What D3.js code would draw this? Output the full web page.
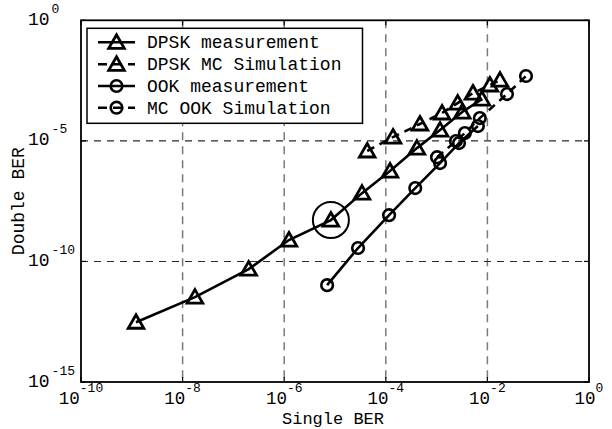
<!DOCTYPE html>
<html>
<head>
<meta charset="utf-8">
<script src="https://cdn.jsdelivr.net/npm/d3@7"></script>
<style>
  html, body { margin: 0; padding: 0; background: #fff; }
  svg { display: block; }
  text { font-family: "Liberation Mono", "Courier New", monospace; fill: #000; }
</style>
</head>
<body>
<svg id="chart" width="612" height="429"></svg>
<script>
// Single BER (x) vs double BER (y), one array pair per curve
const dpskMeasX = [1.21e-9, 1.75e-8, 2.0e-7, 1.24e-6, 8.3e-6, 3.4e-5, 1.21e-4, 4.1e-4, 1.17e-3, 3.2e-3, 7.8e-3];
const dpskMeasY = [3.0e-13, 3.3e-12, 4.8e-11, 7.7e-10, 5.2e-9, 6.8e-8, 5.6e-7, 5.0e-6, 2.8e-5, 1.57e-4, 5.4e-4];
const dpskSimX  = [4.3e-5, 1.39e-4, 4.7e-4, 1.28e-3, 2.6e-3, 5.2e-3, 1.12e-2, 1.77e-2];
const dpskSimY  = [3.8e-6, 1.44e-5, 5.0e-5, 1.43e-4, 3.7e-4, 9.6e-4, 2.07e-3, 3.3e-3];
const ookMeasX  = [7.0e-6, 2.84e-5, 1.16e-4, 3.8e-4, 1.17e-3, 2.76e-3, 6.5e-3];
const ookMeasY  = [1.04e-11, 3.6e-10, 8.3e-9, 1.1e-7, 1.2e-6, 8.1e-6, 4.1e-5];
const ookSimX   = [1.02e-3, 2.4e-3, 3.6e-3, 7.1e-3, 2.43e-2, 5.75e-2];
const ookSimY   = [2.1e-6, 9.8e-6, 2.1e-5, 8.8e-5, 8.7e-4, 4.9e-3];

// Highlighted operating point (5th DPSK measurement)
const highlightIndex = 4;

// Axis ticks and labels
const xTickExps = [-10, -8, -6, -4, -2, 0];
const yTickExps = [0, -5, -10, -15];
const xTitle = "Single BER";
const yTitle = "Double BER";
const legendLabels = ["DPSK measurement", "DPSK MC Simulation", "OOK measurement", "MC OOK Simulation"];

const svg = d3.select("#chart");
const L = 81, R = 589, T = 20.3, B = 382;

const x = d3.scaleLog().domain([1e-10, 1]).range([L, R]);
const y = d3.scaleLog().domain([1e-15, 1]).range([B, T]);

// Grid lines (interior decades only)
const g = svg.append("g");
xTickExps.filter(e => e > -10 && e < 0).forEach(e => {
  g.append("line")
    .attr("x1", x(Math.pow(10, e))).attr("x2", x(Math.pow(10, e)))
    .attr("y1", T).attr("y2", B)
    .attr("stroke", "#7a7a7a").attr("stroke-width", 1.5)
    .attr("stroke-dasharray", "8,6");
});
yTickExps.filter(e => e < 0 && e > -15).forEach(e => {
  g.append("line")
    .attr("x1", L).attr("x2", R)
    .attr("y1", y(Math.pow(10, e))).attr("y2", y(Math.pow(10, e)))
    .attr("stroke", "#2a2a2a").attr("stroke-width", 1.1)
    .attr("stroke-dasharray", "7,6");
});

// Inward ticks on all four sides
const tk = 5;
xTickExps.forEach(e => {
  const px = x(Math.pow(10, e));
  g.append("line").attr("x1", px).attr("x2", px).attr("y1", B).attr("y2", B - tk).attr("stroke", "#000").attr("stroke-width", 1.2);
  g.append("line").attr("x1", px).attr("x2", px).attr("y1", T).attr("y2", T + tk).attr("stroke", "#000").attr("stroke-width", 1.2);
});
yTickExps.forEach(e => {
  const py = y(Math.pow(10, e));
  g.append("line").attr("x1", L).attr("x2", L + tk).attr("y1", py).attr("y2", py).attr("stroke", "#000").attr("stroke-width", 1.2);
  g.append("line").attr("x1", R).attr("x2", R - tk).attr("y1", py).attr("y2", py).attr("stroke", "#000").attr("stroke-width", 1.2);
});

// Axes box
svg.append("rect").attr("x", L).attr("y", T).attr("width", R - L).attr("height", B - T)
  .attr("fill", "none").attr("stroke", "#000").attr("stroke-width", 1.8);

// Tick labels: 10 with superscript exponent
xTickExps.forEach(e => {
  const t = svg.append("text")
    .attr("x", x(Math.pow(10, e))).attr("y", B + 22.3)
    .attr("text-anchor", "middle").attr("font-size", 17.5);
  t.append("tspan").text("10");
  t.append("tspan").attr("dy", -12).attr("font-size", 13).text(String(e));
});
yTickExps.forEach(e => {
  const t = svg.append("text")
    .attr("x", 28).attr("y", y(Math.pow(10, e)) + 4.6)
    .attr("text-anchor", "start").attr("font-size", 18);
  t.append("tspan").text("10");
  t.append("tspan").attr("dx", 2).attr("dy", -12).attr("font-size", 13).text(String(e));
});

// Axis titles
svg.append("text").attr("x", (L + R) / 2 - 2).attr("y", 423.8)
  .attr("text-anchor", "middle").attr("font-size", 17).text(xTitle);
svg.append("text").attr("transform", `translate(23.5,${(T + B) / 2}) rotate(-90)`)
  .attr("text-anchor", "middle").attr("font-size", 18).text(yTitle);

// Marker shapes
const triPath = "M0,-7.5 L7.8,6 L-7.8,6 Z";
function drawMarker(sel, kind, cx, cy) {
  if (kind === "tri") {
    sel.append("path").attr("d", triPath)
      .attr("transform", `translate(${cx},${cy})`)
      .attr("fill", "none").attr("stroke", "#000").attr("stroke-width", 2.8)
      .attr("stroke-linejoin", "miter");
  } else {
    sel.append("circle").attr("cx", cx).attr("cy", cy).attr("r", 5.8)
      .attr("fill", "none").attr("stroke", "#000").attr("stroke-width", 2.6);
  }
}

const series = [
  { xs: dpskMeasX, ys: dpskMeasY, kind: "tri", dash: null },
  { xs: dpskSimX,  ys: dpskSimY,  kind: "tri", dash: "8,6" },
  { xs: ookMeasX,  ys: ookMeasY,  kind: "circ", dash: null },
  { xs: ookSimX,   ys: ookSimY,   kind: "circ", dash: "8,6" }
];

const line = d3.line().x(d => x(d[0])).y(d => y(d[1]));
const plot = svg.append("g");
series.forEach(s => {
  const pts = s.xs.map((v, i) => [v, s.ys[i]]);
  plot.append("path").datum(pts).attr("d", line)
    .attr("fill", "none").attr("stroke", "#000").attr("stroke-width", 2.6)
    .attr("stroke-dasharray", s.dash);
  pts.forEach(p => drawMarker(plot, s.kind, x(p[0]), y(p[1])));
});

// Circle around the highlighted DPSK point
plot.append("circle")
  .attr("cx", x(dpskMeasX[highlightIndex]))
  .attr("cy", y(dpskMeasY[highlightIndex]))
  .attr("r", 18).attr("fill", "none").attr("stroke", "#000").attr("stroke-width", 2);

// Legend
const lg = svg.append("g");
lg.append("rect").attr("x", 87).attr("y", 28.3).attr("width", 275.5).attr("height", 95)
  .attr("fill", "#fff").attr("stroke", "#000").attr("stroke-width", 1.5);
const rowY = [42.3, 64.3, 86, 107.7];
series.forEach((s, i) => {
  lg.append("line").attr("x1", 98).attr("x2", 135).attr("y1", rowY[i]).attr("y2", rowY[i])
    .attr("stroke", "#000").attr("stroke-width", 2.6)
    .attr("stroke-dasharray", s.dash ? "9,6" : null);
  drawMarker(lg, s.kind, 116.5, rowY[i]);
  lg.append("text").attr("x", 147).attr("y", rowY[i] + 6)
    .attr("font-size", 18).text(legendLabels[i]);
});
</script>
</body>
</html>
